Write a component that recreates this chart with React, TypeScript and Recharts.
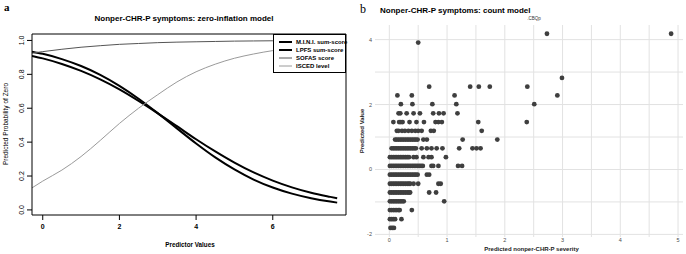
import React from "react";
import {
  LineChart,
  Line,
  XAxis,
  YAxis,
  ScatterChart,
  Scatter,
  CartesianGrid,
} from "recharts";

// ---------- Panel a: zero-inflation model ----------
const predictorX = [-0.28, 0, 0.5, 1, 1.5, 2, 2.5, 3, 3.5, 4, 4.5, 5, 5.5, 6, 6.5, 7, 7.5, 7.68];
const miniProb = [0.934, 0.921, 0.89, 0.849, 0.797, 0.732, 0.656, 0.571, 0.481, 0.392, 0.31, 0.239, 0.179, 0.132, 0.096, 0.069, 0.049, 0.043];
const lpfsProb = [0.909, 0.894, 0.861, 0.82, 0.77, 0.711, 0.643, 0.57, 0.494, 0.417, 0.345, 0.279, 0.221, 0.173, 0.133, 0.101, 0.077, 0.069];
const sofasProb = [0.925, 0.934, 0.948, 0.96, 0.969, 0.977, 0.982, 0.987, 0.99, 0.992, 0.994, 0.996, 0.997, 0.998, 0.998, 0.999, 0.999, 0.999];
const iscedProb = [0.13, 0.17, 0.235, 0.315, 0.41, 0.51, 0.6, 0.68, 0.755, 0.815, 0.86, 0.895, 0.92, 0.94, 0.955, 0.965, 0.972, 0.975];

const seriesNames = ["M.I.N.I. sum-score", "LPFS sum-score", "SOFAS score", "ISCED level"];
const seriesKeys = ["mini", "lpfs", "sofas", "isced"];
const seriesColors = ["#000000", "#000000", "#555555", "#9a9a9a"];
const seriesWidths = [2, 2, 1, 1];

const probTicks = [0, 0.2, 0.4, 0.6, 0.8, 1.0];
const predictorTicks = [0, 2, 4, 6];

// ---------- Panel b: count model ----------
const valueLevels = [-1.8, -1.53, -1.25, -0.98, -0.71, -0.44, -0.16, 0.11, 0.38, 0.65, 0.92, 1.19, 1.46, 1.73, 2.01, 2.28, 2.55, 2.82, 3.91, 4.18];
const rowM180 = [0.02, 0.05, 0.08];
const rowM153 = [0.01, 0.04, 0.07, 0.1, 0.21];
const rowM125 = [0.01, 0.04, 0.07, 0.1, 0.13, 0.16, 0.18, 0.39];
const rowM098 = [0.01, 0.04, 0.07, 0.1, 0.13, 0.16, 0.19, 0.22, 0.25, 0.95];
const rowM071 = [0.01, 0.04, 0.07, 0.1, 0.13, 0.16, 0.19, 0.22, 0.25, 0.28, 0.31, 0.34, 0.36, 0.69, 0.81];
const rowM044 = [0.01, 0.04, 0.07, 0.1, 0.13, 0.16, 0.19, 0.22, 0.25, 0.28, 0.31, 0.34, 0.36, 0.42, 0.5, 0.85, 0.89];
const rowM016 = [0.01, 0.04, 0.07, 0.1, 0.13, 0.16, 0.19, 0.22, 0.25, 0.28, 0.31, 0.34, 0.37, 0.4, 0.43, 0.46, 0.49, 0.65, 0.69];
const rowP011 = [0.01, 0.04, 0.07, 0.1, 0.13, 0.16, 0.19, 0.22, 0.25, 0.28, 0.31, 0.34, 0.37, 0.4, 0.43, 0.46, 0.49, 0.52, 0.55, 0.58, 0.73, 0.76, 0.85, 1.19, 1.26];
const rowP038 = [0.01, 0.04, 0.07, 0.1, 0.13, 0.16, 0.19, 0.22, 0.25, 0.28, 0.31, 0.34, 0.42, 0.47, 0.59, 0.68, 0.73, 0.98];
const rowP065 = [0.04, 0.07, 0.1, 0.13, 0.16, 0.19, 0.22, 0.25, 0.28, 0.31, 0.34, 0.37, 0.4, 0.43, 0.46, 0.56, 0.65, 0.73, 0.82, 0.92, 1.21, 1.44, 1.51, 1.58];
const rowP092 = [0.1, 0.13, 0.16, 0.19, 0.22, 0.25, 0.28, 0.31, 0.34, 0.37, 0.4, 0.43, 0.46, 0.49, 0.59, 0.65, 1.27, 1.87];
const rowP119 = [0.13, 0.16, 0.22, 0.27, 0.33, 0.39, 0.45, 0.5, 0.56, 0.72, 0.77, 1.6];
const rowP146 = [0.07, 0.17, 0.2, 0.23, 0.35, 0.47, 0.6, 0.8, 0.85, 0.91, 1.54, 2.38];
const rowP173 = [0.16, 0.19, 0.3, 0.42, 0.53, 0.76, 0.86, 0.94, 1.18];
const rowP201 = [0.2, 0.4, 0.745, 1.16, 2.51];
const rowP228 = [0.14, 0.39, 1.13, 2.91];
const rowP255 = [0.69, 1.4, 1.55, 1.74, 2.39];
const rowP282 = [2.99];
const rowP391 = [0.5];
const rowP418 = [2.73, 4.88];
const severityRows = [rowM180, rowM153, rowM125, rowM098, rowM071, rowM044, rowM016, rowP011, rowP038, rowP065, rowP092, rowP119, rowP146, rowP173, rowP201, rowP228, rowP255, rowP282, rowP391, rowP418];

const valueTicks = [-2, 0, 2, 4];
const valueGrid = [-2, -1, 0, 1, 2, 3, 4];
const severityTicks = [0, 1, 2, 3, 4, 5];
const severityGrid = [0, 0.5, 1, 1.5, 2, 2.5, 3, 3.5, 4, 4.5, 5];

const lineData = predictorX.map((x, i) => ({
  x,
  mini: miniProb[i],
  lpfs: lpfsProb[i],
  sofas: sofasProb[i],
  isced: iscedProb[i],
}));

const scatterData: { sev: number; val: number }[] = [];
severityRows.forEach((row, i) => {
  row.forEach((sev) => scatterData.push({ sev, val: valueLevels[i] }));
});

const SANS = "'Liberation Sans', Arial, Helvetica, sans-serif";
const SERIF = "'Liberation Serif', 'Times New Roman', serif";

const LeftXTick = (props: any) => {
  const { x, y, payload } = props;
  return (
    <text x={x} y={y} dy={6.5} textAnchor="middle" fontFamily={SANS} fontSize={7} fontWeight="bold" fill="#000">
      {payload.value}
    </text>
  );
};

const LeftYTick = (props: any) => {
  const { x, y, payload } = props;
  const bx = x - 1;
  return (
    <text x={bx} y={y} transform={`rotate(-90 ${bx} ${y})`} textAnchor="middle" fontFamily={SANS} fontSize={7} fill="#000">
      {Number(payload.value).toFixed(1)}
    </text>
  );
};

const RightXTick = (props: any) => {
  const { x, y, payload } = props;
  return (
    <text x={x} y={y} dy={4} textAnchor="middle" fontFamily={SANS} fontSize={5.5} fill="#4d4d4d">
      {payload.value}
    </text>
  );
};

const RightYTick = (props: any) => {
  const { x, y, payload } = props;
  return (
    <text x={x} y={y} dy={2} textAnchor="end" fontFamily={SANS} fontSize={5.5} fill="#4d4d4d">
      {payload.value}
    </text>
  );
};

const Dot = (props: any) => {
  const { cx, cy } = props;
  return <circle cx={cx} cy={cy} r={2.4} fill="#3f3f3f" />;
};

export default function App() {
  return (
    <div style={{ position: "absolute", left: 0, top: 0, width: 686, height: 254, background: "#fff", overflow: "hidden" }}>
      <div style={{ position: "absolute", left: 0, top: 0 }}>
        <LineChart width={360} height={254} data={lineData} margin={{ top: 33, right: 13, bottom: 9, left: 2 }}>
          <XAxis
            dataKey="x"
            type="number"
            domain={[-0.28, 7.91]}
            ticks={predictorTicks}
            height={30}
            tickSize={5}
            tickMargin={2}
            stroke="#000"
            tick={LeftXTick}
            allowDataOverflow
          />
          <XAxis xAxisId="top" orientation="top" type="number" domain={[-0.28, 7.91]} height={1} tick={false} tickLine={false} stroke="#000" />
          <YAxis
            type="number"
            domain={[-0.03, 1.038]}
            ticks={probTicks}
            width={30}
            tickSize={5}
            tickMargin={2}
            stroke="#000"
            tick={LeftYTick}
            allowDataOverflow
          />
          <YAxis yAxisId="right" orientation="right" type="number" domain={[-0.03, 1.038]} width={1} tick={false} tickLine={false} stroke="#000" />
          {seriesKeys.map((k, i) => (
            <Line
              key={k}
              dataKey={k}
              name={seriesNames[i]}
              type="monotone"
              stroke={seriesColors[i]}
              strokeWidth={seriesWidths[i]}
              dot={false}
              isAnimationActive={false}
            />
          ))}
        </LineChart>
      </div>

      <div
        style={{
          position: "absolute",
          left: 273,
          top: 34,
          width: 73,
          height: 39,
          border: "1px solid #000",
          background: "#fff",
          boxSizing: "border-box",
          paddingTop: 3,
        }}
      >
        {seriesNames.map((n, i) => (
          <div key={n} style={{ display: "flex", alignItems: "center", height: 8, whiteSpace: "nowrap" }}>
            <svg width={22} height={8} style={{ flex: "none" }}>
              <line x1={5} y1={4} x2={18} y2={4} stroke={seriesColors[i]} strokeWidth={seriesWidths[i]} />
            </svg>
            <span style={{ fontFamily: SANS, fontSize: 6, fontWeight: "bold", lineHeight: "8px", color: "#000" }}>{n}</span>
          </div>
        ))}
      </div>

      <div style={{ position: "absolute", left: 340, top: 0 }}>
        <ScatterChart width={346} height={254} margin={{ top: 25, right: 3, bottom: 0, left: 0 }}>
          <CartesianGrid horizontalValues={valueGrid} verticalValues={severityGrid} stroke="#e2e2e2" strokeWidth={1} />
          <XAxis
            dataKey="sev"
            type="number"
            domain={[-0.248, 5.086]}
            ticks={severityTicks}
            height={17}
            axisLine={false}
            tickLine={false}
            tickSize={0}
            tickMargin={1}
            tick={RightXTick}
            allowDataOverflow
          />
          <YAxis
            dataKey="val"
            type="number"
            domain={[-2.08, 4.45]}
            ticks={valueTicks}
            width={35}
            axisLine={false}
            tickLine={false}
            tickSize={0}
            tickMargin={3}
            tick={RightYTick}
            allowDataOverflow
          />
          <Scatter data={scatterData} shape={Dot} isAnimationActive={false} />
        </ScatterChart>
      </div>

      <svg width={686} height={254} style={{ position: "absolute", left: 0, top: 0, pointerEvents: "none" }}>
        <text x={4} y={11} fontFamily={SERIF} fontSize={11} fontWeight="bold" fill="#000">a</text>
        <text x={184} y={21} textAnchor="middle" fontFamily={SANS} fontSize={8} fontWeight="bold" fill="#000">
          Nonper-CHR-P symptoms: zero-inflation model
        </text>
        <text x={190} y={246.5} textAnchor="middle" fontFamily={SANS} fontSize={6.3} fontWeight="bold" fill="#000">
          Predictor Values
        </text>
        <text x={7.5} y={124} transform="rotate(-90 7.5 124)" textAnchor="middle" fontFamily={SANS} fontSize={6.5} fill="#000">
          Predicted Probability of Zero
        </text>

        <text x={360} y={13} fontFamily={SERIF} fontSize={12} fill="#000">b</text>
        <text x={380} y={13} fontFamily={SANS} fontSize={8} fontWeight="bold" fill="#000">
          Nonper-CHR-P symptoms: count model
        </text>
        <text x={534} y={20} textAnchor="middle" fontFamily={SANS} fontSize={4.5} fill="#333">.CBQp</text>
        <text x={364} y={131} transform="rotate(-90 364 131)" textAnchor="middle" fontFamily={SANS} fontSize={6} fontWeight="bold" fill="#222">
          Predicted Value
        </text>
        <text x={531.5} y={250.5} textAnchor="middle" fontFamily={SANS} fontSize={6} fontWeight="bold" fill="#222">
          Predicted nonper-CHR-P severity
        </text>
      </svg>
    </div>
  );
}
